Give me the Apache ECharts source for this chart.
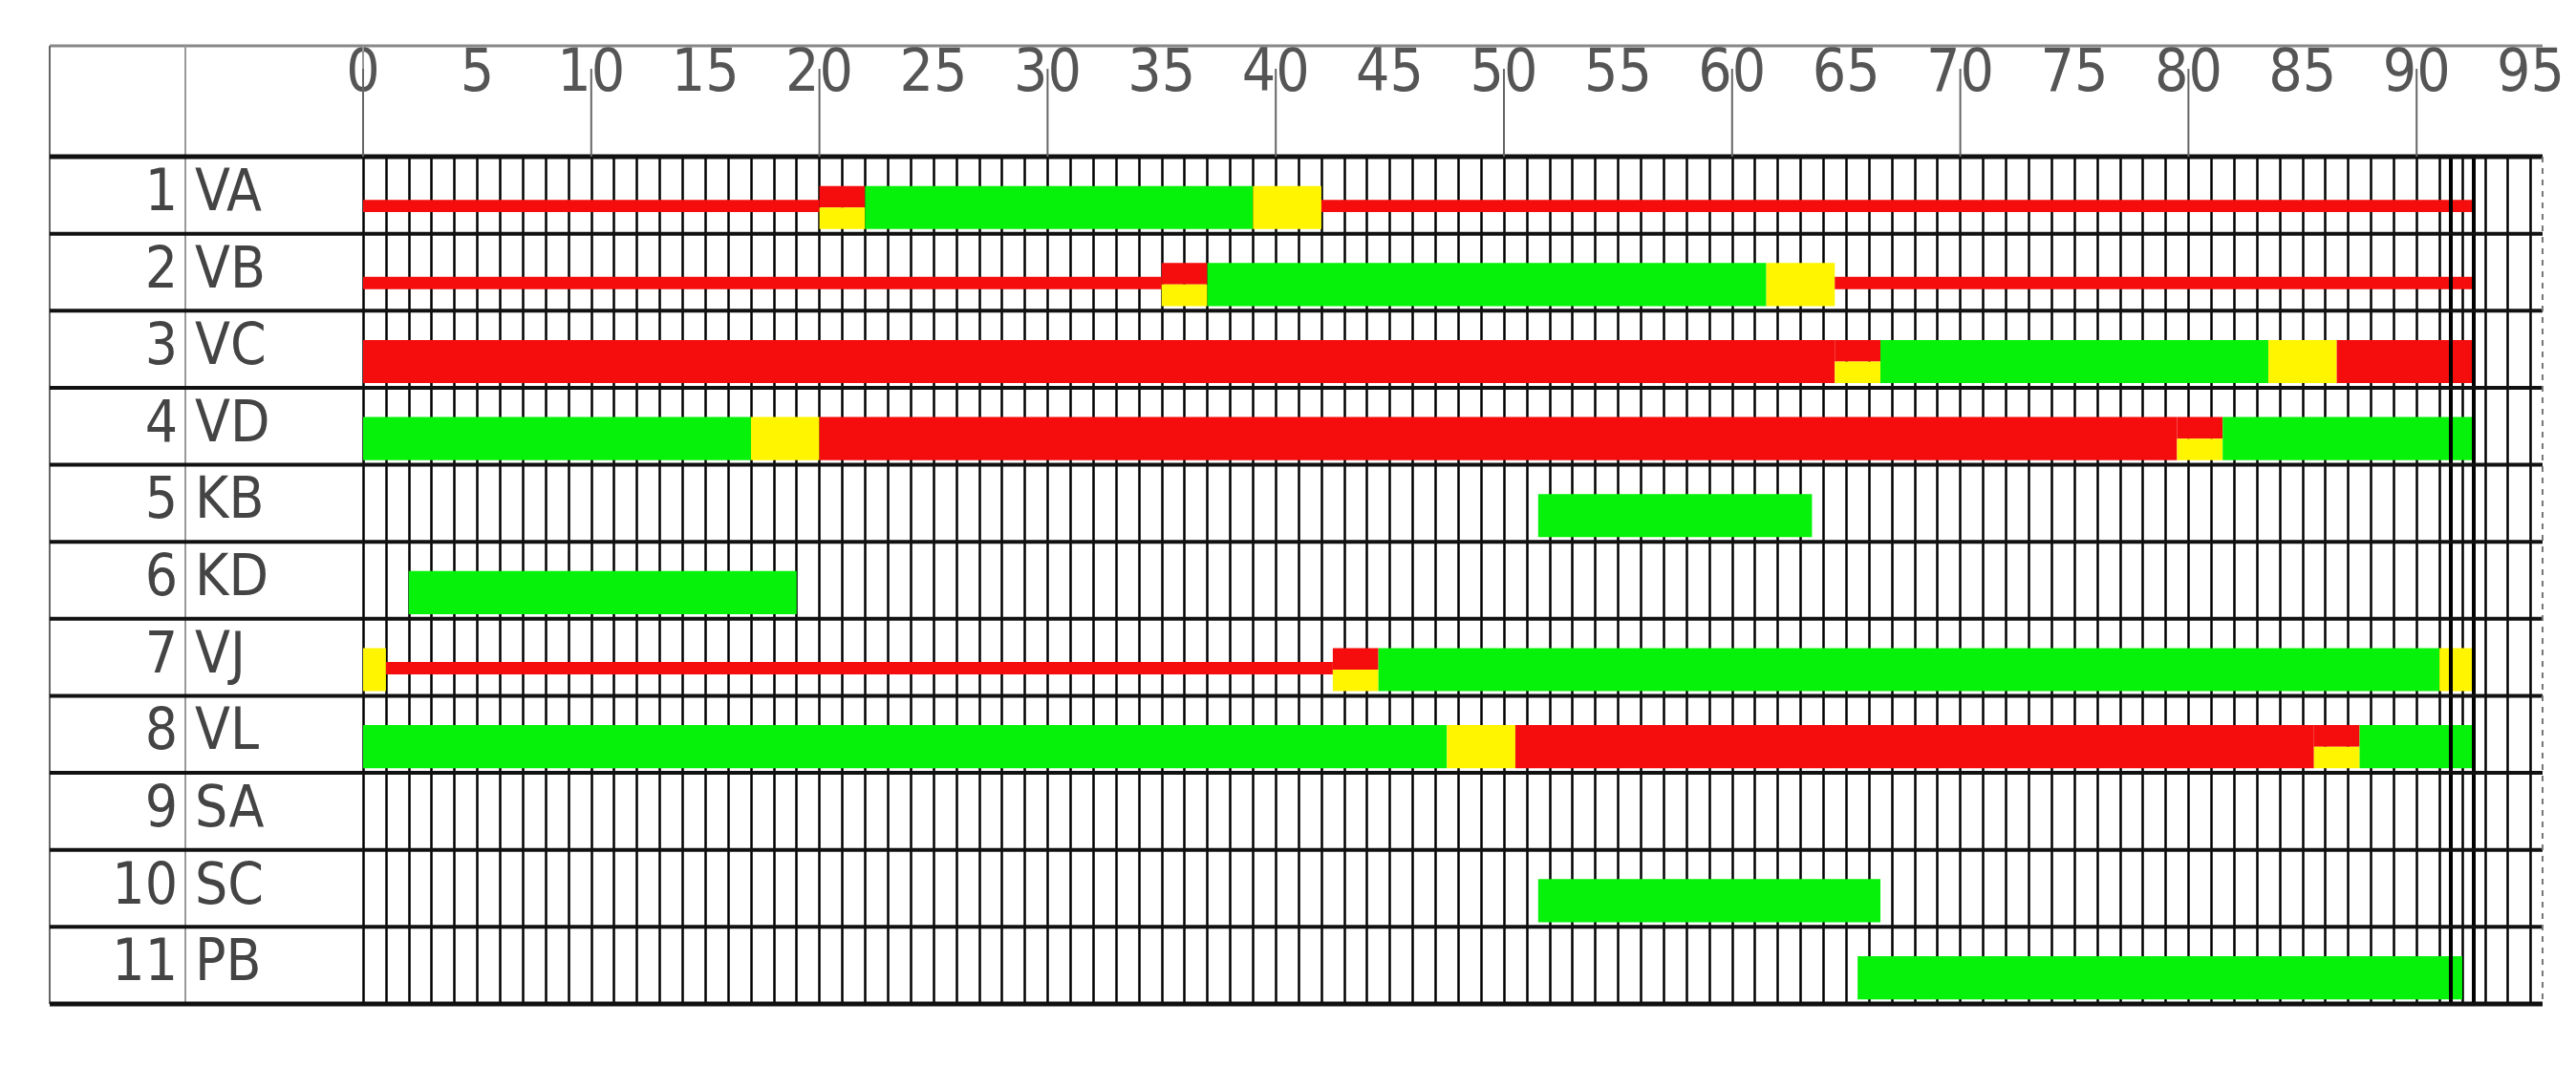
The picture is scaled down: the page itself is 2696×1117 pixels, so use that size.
<!DOCTYPE html>
<html><head><meta charset="utf-8">
<script src="https://cdn.jsdelivr.net/npm/echarts@6/dist/echarts.min.js"></script>
<style>html,body{margin:0;padding:0;background:#fff}#c{width:2696px;height:1117px}</style>
</head><body><div id="c"></div>
<script>
const rowNumbers = ['1','2','3','4','5','6','7','8','9','10','11'];
const rowNames = ['VA','VB','VC','VD','KB','KD','VJ','VL','SA','SC','PB'];
const tickValues = [0,5,10,15,20,25,30,35,40,45,50,55,60,65,70,75,80,85,90,95];
const headerTicks = [0,10,20,30,40,50,60,70,80,90];
// segments per row: [start, end, state]  r = thin red, R = red, Y = yellow, G = green, RY = red+yellow
const VA = [[0,20,'r'],[20,22,'RY'],[22,39,'G'],[39,42,'Y'],[42,92.5,'r']];
const VB = [[0,35,'r'],[35,37,'RY'],[37,61.5,'G'],[61.5,64.5,'Y'],[64.5,92.5,'r']];
const VC = [[0,64.5,'R'],[64.5,66.5,'RY'],[66.5,83.5,'G'],[83.5,86.5,'Y'],[86.5,92.5,'R']];
const VD = [[0,17,'G'],[17,20,'Y'],[20,79.5,'R'],[79.5,81.5,'RY'],[81.5,92.5,'G']];
const KB = [[51.5,63.5,'G']];
const KD = [[2,19,'G']];
const VJ = [[0,1,'Y'],[1,42.5,'r'],[42.5,44.5,'RY'],[44.5,91,'G'],[91,92.5,'Y']];
const VL = [[0,47.5,'G'],[47.5,50.5,'Y'],[50.5,85.5,'R'],[85.5,87.5,'RY'],[87.5,92.5,'G']];
const SA = [];
const SC = [[51.5,66.5,'G']];
const PB = [[65.5,92,'G']];
const rows = [VA,VB,VC,VD,KB,KD,VJ,VL,SA,SC,PB];

const data = [];
rows.forEach((segs,i)=>segs.forEach(s=>data.push([i,s[0],s[1],s[2]])));

const L=52, R=2661, T=48, HB=164, B=1051, X0=380, PPS=23.88;
const GREEN='#06f20a', RED='#f50d0d', YEL='#fff500';
const FONT="'DejaVu Sans Condensed','Liberation Sans','DejaVu Sans',sans-serif";
const rowH=(B-HB)/11;
const graphics=[];
function line(x1,y1,x2,y2,w,c,dash){graphics.push({type:'line',z:10,shape:{x1,y1,x2,y2},style:{stroke:c,lineWidth:w,lineDash:dash||null}});}
line(L,T,R,T,3,'#888');
line(L,T,L,B,2,'#666');
line(194,T,194,B,2,'#999');
line(X0,T,X0,HB,2,'#999');
for(let i=0;i<=11;i++){const y=HB+i*rowH;line(L,y,R,y,i===0||i===11?5:4,'#111');}
line(R,HB,R,B,2,'#777',[6,6]);

const chart=echarts.init(document.getElementById('c'));
chart.setOption({
  animation:false,
  grid:{left:X0,right:2696-(X0+95*PPS),top:HB,bottom:1117-B},
  xAxis:{type:'value',min:0,max:95,interval:5,position:'top',
    axisLine:{show:false},axisTick:{show:false},
    axisLabel:{margin:54,fontSize:62,color:'#555',fontFamily:FONT,
      formatter:v=>tickValues.includes(v)?String(v):''},
    splitLine:{show:true,lineStyle:{color:'#000',width:2.5}},
    minorTick:{show:false,splitNumber:5},
    minorSplitLine:{show:true,lineStyle:{color:'#000',width:2.5}}},
  yAxis:[
    {type:'category',data:rowNames,inverse:true,axisLine:{show:false},axisTick:{show:false},
     axisLabel:{align:'left',margin:X0-204,fontSize:60,color:'#444',fontFamily:FONT}},
    {type:'category',data:rowNumbers,inverse:true,position:'left',axisLine:{show:false},axisTick:{show:false},
     axisLabel:{align:'right',margin:X0-186,fontSize:60,color:'#444',fontFamily:FONT}}
  ],
  series:[{
    type:'custom',
    data:data,
    encode:{x:[1,2],y:0},
    markLine:{silent:true,symbol:'none',label:{show:false},
      data:[{xAxis:91.5,lineStyle:{color:'#000',width:4,type:'solid'}},{xAxis:92.5,lineStyle:{color:'#000',width:4,type:'solid'}}]},
    renderItem:function(params,api){
      const row=api.value(0), s=api.value(1), e=api.value(2), st=data[params.dataIndex][3];
      const p0=api.coord([s,row]), p1=api.coord([e,row]);
      const h=api.size([0,1])[1];
      const cy=p0[1], x=p0[0], w=p1[0]-p0[0];
      const top=cy-0.12*h, bh=0.56*h;
      const ch=[];
      if(st==='r') ch.push({type:'rect',shape:{x,y:cy+0.06*h,width:w,height:0.16*h},style:{fill:RED}});
      else if(st==='RY'){
        ch.push({type:'rect',shape:{x,y:top,width:w,height:bh/2},style:{fill:RED}});
        ch.push({type:'rect',shape:{x,y:top+bh/2,width:w,height:bh/2},style:{fill:YEL}});
      } else ch.push({type:'rect',shape:{x,y:top,width:w,height:bh},style:{fill:st==='G'?GREEN:st==='Y'?YEL:RED}});
      return {type:'group',children:ch};
    }
  }]
});
headerTicks.forEach(v=>{
  const px=chart.convertToPixel({xAxisIndex:0},v);
  line(px,72,px,HB,2,'#666');
});
chart.setOption({graphic:graphics});
</script></body></html>
